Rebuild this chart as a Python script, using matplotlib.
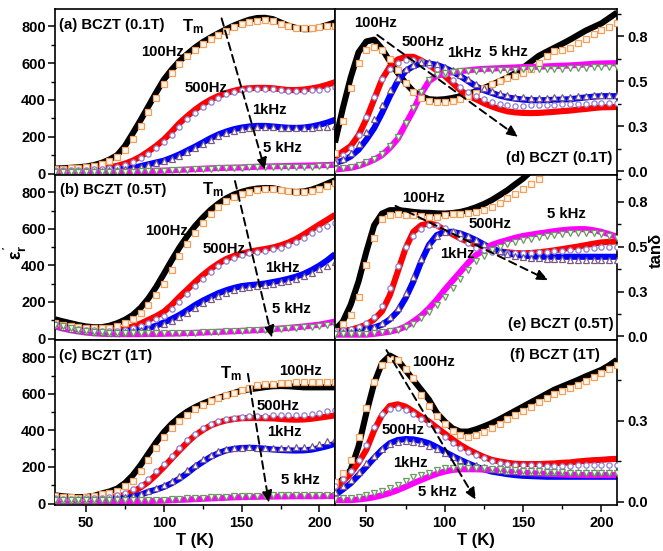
import numpy as np
import matplotlib
matplotlib.use("Agg")
import matplotlib.pyplot as plt
from matplotlib.ticker import MultipleLocator, FixedLocator, FixedFormatter

plt.rcParams['font.family'] = ['Liberation Sans', 'DejaVu Sans']
plt.rcParams['font.weight'] = 'bold'
plt.rcParams['mathtext.fontset'] = 'custom'
plt.rcParams['mathtext.rm'] = 'Liberation Sans:bold'
plt.rcParams['mathtext.bf'] = 'Liberation Sans:bold'
plt.rcParams['mathtext.it'] = 'Liberation Sans:bold'
plt.rcParams['mathtext.default'] = 'rm'

# temperature grid (K)
TEMPS = np.arange(30, 215, 5)

# ---------- (a) BCZT 0.1T, real permittivity ----------
a_100 = [27, 29, 31, 34, 38, 46, 58, 76, 100, 150, 219, 290, 365, 440, 511, 565, 612, 650, 685, 715, 740, 763, 785, 805, 822, 837, 846, 847, 840, 822, 804, 792, 785, 786, 795, 808, 822]
a_100_fit = [25, 27, 29, 32, 36, 42, 52, 68, 88, 130, 190, 260, 335, 410, 485, 545, 595, 637, 672, 703, 730, 753, 775, 795, 812, 825, 832, 833, 828, 815, 800, 793, 790, 791, 795, 800, 805]
a_500 = [20, 20, 20, 21, 22, 25, 29, 34, 42, 54, 70, 92, 120, 150, 185, 228, 274, 312, 347, 377, 402, 422, 438, 450, 460, 464, 466, 466, 464, 459, 454, 454, 457, 463, 471, 483, 497]
a_500_fit = [18, 18, 18, 19, 20, 22, 26, 30, 37, 48, 62, 82, 108, 138, 172, 212, 255, 295, 330, 362, 390, 412, 430, 443, 453, 458, 460, 460, 458, 455, 451, 450, 450, 452, 455, 462, 472]
a_1k = [15, 14, 14, 14, 15, 16, 17, 19, 21, 25, 31, 40, 50, 60, 70, 86, 104, 125, 146, 169, 192, 212, 228, 241, 250, 256, 259, 259, 256, 252, 249, 248, 250, 256, 265, 277, 292]
a_1k_fit = [13, 12, 12, 12, 13, 14, 15, 17, 19, 23, 28, 36, 45, 55, 66, 80, 97, 117, 138, 160, 183, 203, 220, 234, 244, 250, 253, 253, 251, 248, 246, 245, 246, 248, 251, 254, 258]
a_5k = [14, 12, 10, 9, 9, 9, 9, 10, 10, 11, 12, 13, 14, 15, 16, 18, 20, 22, 24, 26, 28, 30, 31, 32, 33, 35, 37, 38, 39, 40, 41, 42, 43, 44, 45, 46, 48]
a_5k_fit = [10, 9, 8, 8, 8, 8, 8, 9, 9, 10, 11, 12, 13, 14, 15, 17, 19, 21, 23, 25, 27, 29, 30, 31, 32, 33, 34, 35, 36, 36, 37, 37, 38, 38, 39, 39, 40]

# ---------- (b) BCZT 0.5T, real permittivity ----------
b_100 = [105, 94, 84, 74, 66, 62, 62, 70, 84, 103, 129, 168, 219, 282, 354, 428, 498, 560, 615, 662, 704, 738, 767, 788, 803, 814, 821, 824, 823, 814, 805, 802, 805, 815, 830, 848, 866]
b_100_fit = [85, 76, 68, 62, 58, 56, 56, 60, 70, 85, 105, 138, 182, 238, 300, 375, 450, 515, 575, 630, 680, 718, 750, 773, 790, 803, 812, 816, 818, 815, 810, 804, 802, 808, 820, 835, 850]
b_500 = [82, 72, 63, 56, 50, 47, 45, 44, 46, 54, 66, 82, 102, 122, 147, 184, 228, 268, 309, 347, 381, 410, 435, 452, 465, 475, 483, 490, 498, 510, 525, 545, 570, 597, 624, 650, 677]
b_500_fit = [78, 68, 60, 53, 48, 45, 43, 42, 43, 48, 57, 70, 86, 105, 126, 160, 200, 242, 285, 325, 362, 395, 422, 442, 456, 466, 474, 481, 488, 498, 512, 530, 552, 577, 600, 617, 632]
b_1k = [75, 65, 56, 48, 42, 38, 36, 35, 35, 38, 44, 50, 57, 70, 88, 107, 129, 155, 183, 207, 228, 248, 264, 277, 287, 292, 296, 301, 309, 317, 327, 339, 354, 375, 399, 428, 462]
b_1k_fit = [72, 62, 53, 46, 40, 36, 34, 33, 33, 35, 40, 46, 52, 63, 78, 95, 116, 140, 167, 192, 214, 234, 251, 264, 275, 282, 287, 292, 299, 307, 316, 327, 340, 358, 378, 398, 417]
b_5k = [66, 55, 46, 39, 33, 29, 26, 25, 24, 24, 24, 24, 25, 25, 26, 27, 28, 30, 31, 33, 35, 37, 38, 40, 42, 44, 46, 49, 52, 55, 58, 62, 66, 71, 76, 84, 93]
b_5k_fit = [76, 66, 57, 49, 43, 38, 34, 31, 29, 28, 28, 28, 28, 28, 29, 30, 31, 32, 33, 34, 36, 38, 40, 41, 43, 45, 47, 49, 51, 53, 55, 58, 61, 64, 68, 72, 76]

# ---------- (c) BCZT 1T, real permittivity ----------
c_100 = [45, 40, 36, 35, 36, 42, 55, 66, 82, 112, 155, 210, 273, 335, 391, 436, 473, 503, 527, 547, 564, 578, 591, 605, 618, 625, 631, 637, 642, 643, 642, 639, 636, 636, 636, 636, 636]
c_100_fit = [40, 36, 34, 33, 35, 40, 50, 58, 70, 95, 125, 178, 240, 302, 364, 412, 450, 486, 515, 540, 560, 577, 592, 606, 620, 634, 646, 652, 656, 660, 662, 663, 664, 664, 665, 666, 667]
c_500 = [30, 29, 28, 27, 27, 28, 30, 33, 37, 48, 64, 88, 118, 157, 200, 246, 291, 334, 373, 402, 427, 443, 455, 462, 467, 468, 468, 467, 466, 463, 460, 459, 460, 464, 470, 476, 482]
c_500_fit = [28, 27, 27, 27, 28, 30, 33, 38, 45, 58, 77, 104, 137, 177, 218, 262, 305, 345, 383, 412, 435, 452, 463, 470, 475, 478, 480, 481, 482, 483, 484, 485, 487, 492, 498, 504, 510]
c_1k = [25, 24, 23, 22, 22, 22, 23, 24, 26, 30, 36, 48, 64, 76, 91, 111, 136, 166, 200, 228, 255, 275, 291, 299, 304, 305, 304, 300, 296, 293, 291, 290, 291, 295, 304, 314, 327]
c_1k_fit = [23, 22, 22, 21, 21, 22, 24, 26, 29, 34, 42, 54, 70, 85, 103, 125, 152, 182, 213, 242, 267, 285, 298, 304, 306, 307, 306, 305, 305, 305, 306, 307, 309, 316, 327, 340, 355]
c_5k = [15, 13, 11, 10, 10, 10, 10, 10, 10, 11, 12, 13, 14, 15, 16, 18, 20, 22, 24, 26, 28, 30, 32, 34, 35, 36, 37, 38, 38, 39, 39, 40, 40, 40, 40, 41, 41]
c_5k_fit = [20, 19, 18, 18, 18, 18, 18, 19, 19, 19, 20, 20, 21, 21, 22, 24, 26, 28, 30, 32, 34, 36, 38, 39, 40, 41, 42, 43, 44, 45, 45, 46, 46, 47, 47, 48, 48]

# ---------- (d) BCZT 0.1T, loss tangent ----------
d_100 = [0.16, 0.35, 0.52, 0.66, 0.72, 0.73, 0.68, 0.61, 0.546, 0.49, 0.444, 0.417, 0.40, 0.397, 0.40, 0.407, 0.417, 0.43, 0.444, 0.462, 0.48, 0.50, 0.52, 0.545, 0.574, 0.607, 0.64, 0.663, 0.685, 0.707, 0.73, 0.755, 0.78, 0.80, 0.82, 0.85, 0.88]
d_100_fit = [0.10, 0.28, 0.46, 0.60, 0.67, 0.69, 0.675, 0.625, 0.56, 0.49, 0.44, 0.405, 0.39, 0.385, 0.385, 0.39, 0.40, 0.417, 0.435, 0.46, 0.485, 0.50, 0.515, 0.53, 0.545, 0.57, 0.60, 0.64, 0.665, 0.675, 0.685, 0.71, 0.735, 0.76, 0.785, 0.80, 0.82]
d_500 = [0.08, 0.11, 0.14, 0.20, 0.29, 0.40, 0.51, 0.58, 0.62, 0.635, 0.635, 0.615, 0.59, 0.56, 0.53, 0.49, 0.45, 0.42, 0.40, 0.378, 0.36, 0.345, 0.333, 0.327, 0.324, 0.323, 0.324, 0.327, 0.33, 0.334, 0.337, 0.342, 0.346, 0.351, 0.355, 0.356, 0.357]
d_500_fit = [0.06, 0.09, 0.13, 0.20, 0.30, 0.41, 0.51, 0.57, 0.60, 0.615, 0.62, 0.61, 0.59, 0.565, 0.54, 0.505, 0.47, 0.44, 0.417, 0.40, 0.385, 0.375, 0.368, 0.365, 0.365, 0.366, 0.367, 0.368, 0.37, 0.371, 0.372, 0.374, 0.376, 0.378, 0.379, 0.38, 0.38]
d_1k = [0.046, 0.06, 0.083, 0.12, 0.176, 0.24, 0.324, 0.417, 0.50, 0.556, 0.583, 0.598, 0.598, 0.59, 0.574, 0.553, 0.528, 0.50, 0.472, 0.45, 0.435, 0.42, 0.41, 0.403, 0.398, 0.395, 0.394, 0.395, 0.397, 0.398, 0.40, 0.405, 0.41, 0.414, 0.417, 0.417, 0.417]
d_1k_fit = [0.05, 0.07, 0.10, 0.15, 0.22, 0.29, 0.37, 0.45, 0.52, 0.565, 0.59, 0.605, 0.605, 0.595, 0.58, 0.56, 0.535, 0.51, 0.485, 0.463, 0.447, 0.433, 0.422, 0.415, 0.41, 0.408, 0.407, 0.408, 0.41, 0.412, 0.414, 0.417, 0.42, 0.423, 0.425, 0.426, 0.426]
d_5k = [0.01, 0.015, 0.02, 0.03, 0.046, 0.065, 0.09, 0.13, 0.18, 0.26, 0.34, 0.43, 0.50, 0.53, 0.542, 0.55, 0.556, 0.56, 0.565, 0.568, 0.57, 0.572, 0.574, 0.576, 0.578, 0.579, 0.58, 0.582, 0.584, 0.586, 0.587, 0.59, 0.593, 0.596, 0.598, 0.599, 0.60]
d_5k_fit = [0.012, 0.017, 0.024, 0.034, 0.05, 0.07, 0.097, 0.14, 0.19, 0.27, 0.35, 0.44, 0.505, 0.535, 0.548, 0.552, 0.555, 0.557, 0.558, 0.56, 0.561, 0.562, 0.563, 0.564, 0.565, 0.566, 0.567, 0.568, 0.569, 0.57, 0.571, 0.572, 0.574, 0.576, 0.578, 0.579, 0.58]

# ---------- (e) BCZT 0.5T, loss tangent ----------
nan = np.nan
e_100 = [0.037, 0.083, 0.176, 0.306, 0.472, 0.62, 0.685, 0.704, 0.704, 0.70, 0.694, 0.69, 0.689, 0.686, 0.685, 0.688, 0.694, 0.705, 0.72, 0.738, 0.76, 0.787, 0.815, 0.848, 0.88, 0.92, nan, nan, nan, nan, nan, nan, nan, nan, nan, nan, nan]
e_100_fit = [0.03, 0.07, 0.12, 0.22, 0.40, 0.55, 0.657, 0.676, 0.68, 0.678, 0.676, 0.67, 0.667, 0.668, 0.676, 0.68, 0.685, 0.689, 0.694, 0.705, 0.72, 0.743, 0.77, 0.795, 0.82, 0.85, 0.88, 0.92, nan, nan, nan, nan, nan, nan, nan, nan, nan]
e_500 = [0.028, 0.032, 0.037, 0.05, 0.065, 0.095, 0.14, 0.23, 0.36, 0.49, 0.583, 0.62, 0.63, 0.62, 0.593, 0.57, 0.546, 0.527, 0.509, 0.493, 0.48, 0.474, 0.469, 0.465, 0.463, 0.465, 0.469, 0.474, 0.48, 0.487, 0.494, 0.501, 0.509, 0.517, 0.524, 0.527, 0.53]
e_500_fit = [0.03, 0.035, 0.04, 0.055, 0.075, 0.11, 0.17, 0.27, 0.39, 0.50, 0.56, 0.60, 0.62, 0.62, 0.605, 0.58, 0.55, 0.52, 0.495, 0.48, 0.472, 0.467, 0.464, 0.463, 0.463, 0.465, 0.468, 0.471, 0.474, 0.477, 0.48, 0.484, 0.488, 0.492, 0.496, 0.498, 0.50]
e_1k = [0.02, 0.022, 0.025, 0.03, 0.04, 0.05, 0.065, 0.095, 0.14, 0.213, 0.306, 0.417, 0.51, 0.565, 0.583, 0.583, 0.574, 0.557, 0.537, 0.513, 0.49, 0.475, 0.463, 0.455, 0.45, 0.447, 0.444, 0.444, 0.444, 0.444, 0.444, 0.444, 0.444, 0.444, 0.444, 0.444, 0.444]
e_1k_fit = [0.02, 0.022, 0.026, 0.032, 0.042, 0.055, 0.075, 0.11, 0.16, 0.24, 0.33, 0.43, 0.51, 0.56, 0.58, 0.585, 0.578, 0.56, 0.54, 0.515, 0.492, 0.474, 0.46, 0.45, 0.443, 0.438, 0.435, 0.432, 0.43, 0.429, 0.428, 0.427, 0.427, 0.426, 0.426, 0.426, 0.426]
e_5k = [0.01, 0.01, 0.01, 0.01, 0.01, 0.014, 0.02, 0.027, 0.037, 0.055, 0.083, 0.115, 0.157, 0.205, 0.26, 0.31, 0.36, 0.41, 0.454, 0.48, 0.51, 0.525, 0.537, 0.55, 0.56, 0.567, 0.574, 0.58, 0.587, 0.592, 0.596, 0.598, 0.598, 0.592, 0.583, 0.57, 0.556]
e_5k_fit = [0.015, 0.015, 0.015, 0.015, 0.016, 0.018, 0.022, 0.028, 0.036, 0.05, 0.07, 0.10, 0.135, 0.175, 0.22, 0.27, 0.32, 0.37, 0.42, 0.45, 0.48, 0.50, 0.515, 0.525, 0.535, 0.545, 0.553, 0.56, 0.566, 0.57, 0.574, 0.576, 0.577, 0.575, 0.57, 0.562, 0.55]

# ---------- (f) BCZT 1T, loss tangent ----------
f_100 = [0.046, 0.07, 0.098, 0.17, 0.273, 0.365, 0.427, 0.45, 0.437, 0.406, 0.375, 0.345, 0.314, 0.273, 0.247, 0.226, 0.216, 0.216, 0.223, 0.232, 0.242, 0.254, 0.267, 0.28, 0.293, 0.306, 0.319, 0.332, 0.345, 0.355, 0.365, 0.375, 0.386, 0.396, 0.406, 0.42, 0.437]
f_100_fit = [0.06, 0.09, 0.13, 0.20, 0.29, 0.37, 0.42, 0.44, 0.435, 0.41, 0.38, 0.33, 0.295, 0.265, 0.24, 0.218, 0.206, 0.20, 0.205, 0.215, 0.228, 0.24, 0.255, 0.268, 0.28, 0.293, 0.307, 0.32, 0.332, 0.342, 0.35, 0.36, 0.372, 0.384, 0.396, 0.408, 0.42]
f_500 = [0.041, 0.063, 0.087, 0.12, 0.16, 0.22, 0.267, 0.295, 0.30, 0.293, 0.278, 0.262, 0.247, 0.228, 0.21, 0.192, 0.175, 0.161, 0.149, 0.138, 0.129, 0.124, 0.12, 0.117, 0.116, 0.116, 0.116, 0.117, 0.118, 0.12, 0.121, 0.124, 0.126, 0.128, 0.129, 0.131, 0.132]
f_500_fit = [0.05, 0.07, 0.095, 0.13, 0.175, 0.23, 0.27, 0.287, 0.29, 0.283, 0.27, 0.255, 0.238, 0.22, 0.20, 0.18, 0.165, 0.153, 0.144, 0.134, 0.126, 0.12, 0.116, 0.114, 0.113, 0.112, 0.112, 0.111, 0.111, 0.111, 0.111, 0.112, 0.112, 0.113, 0.113, 0.113, 0.113]
f_1k = [0.02, 0.038, 0.057, 0.082, 0.108, 0.135, 0.16, 0.18, 0.19, 0.193, 0.192, 0.187, 0.18, 0.168, 0.154, 0.141, 0.129, 0.118, 0.108, 0.10, 0.093, 0.089, 0.085, 0.082, 0.08, 0.079, 0.078, 0.077, 0.077, 0.077, 0.077, 0.077, 0.077, 0.077, 0.077, 0.077, 0.077]
f_1k_fit = [0.03, 0.048, 0.068, 0.093, 0.118, 0.142, 0.163, 0.177, 0.184, 0.186, 0.185, 0.18, 0.172, 0.162, 0.15, 0.139, 0.128, 0.12, 0.113, 0.106, 0.101, 0.097, 0.095, 0.094, 0.093, 0.092, 0.092, 0.092, 0.092, 0.092, 0.092, 0.092, 0.093, 0.093, 0.093, 0.093, 0.093]
f_5k = [0.005, 0.005, 0.005, 0.007, 0.01, 0.014, 0.02, 0.027, 0.036, 0.046, 0.057, 0.067, 0.077, 0.086, 0.093, 0.098, 0.10, 0.10, 0.10, 0.099, 0.098, 0.096, 0.093, 0.091, 0.09, 0.088, 0.087, 0.086, 0.085, 0.084, 0.083, 0.083, 0.082, 0.082, 0.082, 0.082, 0.082]
f_5k_fit = [0.01, 0.011, 0.012, 0.015, 0.02, 0.026, 0.033, 0.042, 0.053, 0.065, 0.075, 0.083, 0.09, 0.097, 0.103, 0.105, 0.106, 0.105, 0.104, 0.103, 0.102, 0.10, 0.098, 0.097, 0.096, 0.095, 0.094, 0.093, 0.092, 0.091, 0.09, 0.09, 0.089, 0.089, 0.088, 0.088, 0.088]

FREQ_LABELS = ["100Hz", "500Hz", "1kHz", "5 kHz"]
PANEL_TITLES = ["(a) BCZT (0.1T)", "(b) BCZT (0.5T)", "(c) BCZT (1T)",
                "(d) BCZT (0.1T)", "(e) BCZT (0.5T)", "(f) BCZT (1T)"]
EPS_TICKS = [0, 200, 400, 600, 800]
TAN_TICKS = [0.0, 0.25, 0.5, 0.75]
TAN_TICK_LABELS = ["0.0", "0.3", "0.5", "0.8"]
X_TICKS = [50, 100, 150, 200]

# measured curves drawn as thick bands, fitted curves as open markers
LINE_COLORS = ["#000000", "#ff0000", "#0000ff", "#ff00ff"]
FIT_STYLE = [
    dict(marker="s", mec="#f5a05a", mfc="#fff6ee"),
    dict(marker="o", mec="#8f7fd0", mfc="#ffffff"),
    dict(marker="^", mec="#7a5a80", mfc="#ffffff"),
    dict(marker="v", mec="#6a9a62", mfc="#f4fff0"),
]

panels = {
    (0, 0): [(a_100, a_100_fit), (a_500, a_500_fit), (a_1k, a_1k_fit), (a_5k, a_5k_fit)],
    (1, 0): [(b_100, b_100_fit), (b_500, b_500_fit), (b_1k, b_1k_fit), (b_5k, b_5k_fit)],
    (2, 0): [(c_100, c_100_fit), (c_500, c_500_fit), (c_1k, c_1k_fit), (c_5k, c_5k_fit)],
    (0, 1): [(d_100, d_100_fit), (d_500, d_500_fit), (d_1k, d_1k_fit), (d_5k, d_5k_fit)],
    (1, 1): [(e_100, e_100_fit), (e_500, e_500_fit), (e_1k, e_1k_fit), (e_5k, e_5k_fit)],
    (2, 1): [(f_100, f_100_fit), (f_500, f_500_fit), (f_1k, f_1k_fit), (f_5k, f_5k_fit)],
}

fig = plt.figure(figsize=(6.63, 5.51), dpi=100)
W, H = 663.0, 551.0
col_x = [(55, 335), (335, 617)]
row_y = [(9, 175), (175, 340), (340, 505)]
axes = {}
for r in range(3):
    for c in range(2):
        x0, x1 = col_x[c]
        y0, y1 = row_y[r]
        axes[(r, c)] = fig.add_axes([x0 / W, 1 - y1 / H, (x1 - x0) / W, (y1 - y0) / H])

TXT = dict(fontsize=10.7, fontweight="bold", ha="center", va="center")

for (r, c), series in panels.items():
    ax = axes[(r, c)]
    for i, (meas, fit) in enumerate(series):
        ax.plot(TEMPS, meas, color=LINE_COLORS[i], lw=4.4, solid_capstyle="butt", zorder=2)
        ax.plot(TEMPS, fit, ls="none", ms=3.8, mew=0.9, zorder=3, **FIT_STYLE[i])
    ax.set_xlim(30, 210)
    ax.xaxis.set_major_locator(FixedLocator(X_TICKS))
    ax.xaxis.set_minor_locator(MultipleLocator(25))
    ax.tick_params(axis="both", which="major", direction="out", length=5, width=1.1, labelsize=10.5)
    ax.tick_params(axis="both", which="minor", direction="out", length=3, width=1.0)
    ax.tick_params(axis="x", which="major", pad=3)
    for sp in ax.spines.values():
        sp.set_linewidth(1.2)
    if r < 2:
        ax.tick_params(axis="x", labelbottom=False)
    if c == 0:
        ax.set_ylim(-8, 895)
        ax.yaxis.set_major_locator(FixedLocator(EPS_TICKS))
        ax.yaxis.set_minor_locator(MultipleLocator(100))
        ax.tick_params(axis="y", which="both", right=False)
        ax.tick_params(axis="y", which="major", pad=1.5)
    else:
        ax.yaxis.tick_right()
        ax.tick_params(axis="y", which="both", left=False)
        ax.tick_params(axis="y", which="major", pad=2.5)
        if r < 2:
            ax.set_ylim(-0.02, 0.90)
            ax.yaxis.set_major_locator(FixedLocator(TAN_TICKS))
            ax.yaxis.set_major_formatter(FixedFormatter(TAN_TICK_LABELS))
            ax.yaxis.set_minor_locator(FixedLocator([0.125, 0.375, 0.625, 0.875]))
        else:
            ax.set_ylim(-0.01, 0.498)
            ax.yaxis.set_major_locator(FixedLocator(TAN_TICKS[:2]))
            ax.yaxis.set_major_formatter(FixedFormatter(TAN_TICK_LABELS[:2]))
            ax.yaxis.set_minor_locator(FixedLocator([0.125, 0.375]))
    for lab in ax.get_xticklabels() + ax.get_yticklabels():
        lab.set_fontweight("bold")


def arrow(ax, start, end):
    ax.annotate("", xy=end, xytext=start, zorder=5,
                arrowprops=dict(arrowstyle="-|>,head_length=0.7,head_width=0.3",
                                linestyle=(0, (4, 2.5)), lw=1.4, color="k",
                                shrinkA=0, shrinkB=0))


TM = r"T$_{\mathregular{m}}$"

# panel (a)
ax = axes[(0, 0)]
ax.text(66.6, 808, PANEL_TITLES[0], **TXT)
ax.text(118.7, 800, TM, fontsize=12, fontweight="bold", ha="center", va="center")
for lab, (x, y) in zip(FREQ_LABELS, [(98.8, 661), (127, 465), (167.5, 345), (175.9, 139)]):
    ax.text(x, y, lab, **TXT)
arrow(ax, (137.1, 844), (165, 19))

# panel (b)
ax = axes[(1, 0)]
ax.text(67.3, 813, PANEL_TITLES[1], **TXT)
ax.text(131.5, 815, TM, fontsize=12, fontweight="bold", ha="center", va="center")
for lab, (x, y) in zip(FREQ_LABELS, [(102, 590), (138.6, 492), (175.9, 384), (181.7, 160)]):
    ax.text(x, y, lab, **TXT)
arrow(ax, (145.7, 862), (169.5, 3))

# panel (c)
ax = axes[(2, 0)]
ax.text(62.8, 808, PANEL_TITLES[2], **TXT)
ax.text(143.1, 712, TM, fontsize=12, fontweight="bold", ha="center", va="center")
for lab, (x, y) in zip(FREQ_LABELS, [(187.5, 726), (173.3, 536), (177.2, 389), (187.5, 128)]):
    ax.text(x, y, lab, **TXT)
arrow(ax, (154, 710), (167.5, 3))

# panel (d)
ax = axes[(0, 1)]
ax.text(173.3, 0.074, PANEL_TITLES[3], **TXT)
for lab, (x, y) in zip(FREQ_LABELS, [(55.7, 0.823), (85.9, 0.717), (112.3, 0.656), (140.5, 0.662)]):
    ax.text(x, y, lab, **TXT)
arrow(ax, (57, 0.756), (147, 0.19))

# panel (e)
ax = axes[(1, 1)]
ax.text(174, 0.069, PANEL_TITLES[4], **TXT)
for lab, (x, y) in zip(FREQ_LABELS, [(86.6, 0.773), (129, 0.629), (108.4, 0.457), (177.8, 0.684)]):
    ax.text(x, y, lab, **TXT)
arrow(ax, (68.6, 0.728), (166.2, 0.313))

# panel (f)
ax = axes[(2, 1)]
ax.text(170.1, 0.452, PANEL_TITLES[5], **TXT)
for lab, (x, y) in zip(FREQ_LABELS, [(93, 0.43), (73.7, 0.221), (78.2, 0.119), (95.6, 0.03)]):
    ax.text(x, y, lab, **TXT)
arrow(ax, (62.8, 0.467), (120, 0.005))

axes[(2, 0)].set_xlabel("T (K)", fontsize=12, fontweight="bold", labelpad=2)
axes[(2, 1)].set_xlabel("T (K)", fontsize=12, fontweight="bold", labelpad=2)

# axis titles placed in figure pixels
fig.text(15 / W, 1 - 252 / H, r"$\varepsilon_{\mathregular{r}}^{\,\mathregular{'}}$",
         fontsize=13, rotation=90, ha="center", va="center")
fig.text(656 / W, 1 - 250 / H, "tanδ", fontsize=12, fontweight="bold",
         rotation=90, ha="center", va="center")

fig.savefig("out.png", dpi=100)
